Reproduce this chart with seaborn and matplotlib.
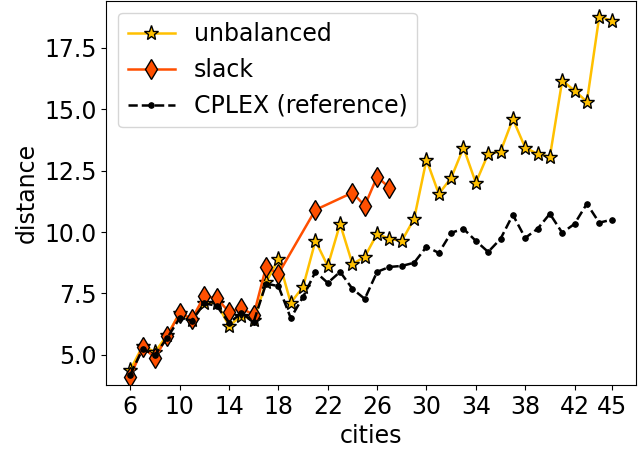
import numpy as np
import pandas as pd
import seaborn as sns
import matplotlib
matplotlib.use("Agg")
import matplotlib.pyplot as plt

# values
cities = list(range(6, 46))
unbalanced = [4.39, 5.37, 5.12, 5.81, 6.71, 6.43, 7.12, 7.12, 6.18, 6.59,
              6.43, 7.95, 8.9, 7.12, 7.77, 9.64, 8.62, 10.33, 8.7, 8.99,
              9.93, 9.72, 9.64, 10.54, 12.94, 11.55, 12.2, 13.43, 12.0, 13.18,
              13.27, 14.6, 13.43, 13.18, 13.06, 16.16, 15.75, 15.3, 18.76, 18.6]
slack_cities = [6, 7, 8, 9, 10, 11, 12, 13, 14, 15, 16, 17, 18, 21, 24, 25, 26, 27]
slack = [4.1, 5.33, 4.88, 5.77, 6.71, 6.47, 7.4, 7.3, 6.75, 6.9,
         6.63, 8.58, 8.3, 10.9, 11.6, 11.07, 12.25, 11.8]
cplex = [4.2, 5.24, 5.0, 5.7, 6.5, 6.4, 7.1, 7.0, 6.3, 6.7,
         6.35, 7.9, 7.8, 6.5, 7.36, 8.38, 7.93, 8.38, 7.69, 7.28,
         8.38, 8.58, 8.62, 8.75, 9.4, 9.15, 9.97, 10.13, 9.64, 9.19,
         9.72, 10.7, 9.76, 10.13, 10.74, 9.97, 10.33, 11.15, 10.38, 10.5]
xticks = [6, 10, 14, 18, 22, 26, 30, 34, 38, 42, 45]
yticks = [5.0, 7.5, 10.0, 12.5, 15.0, 17.5]

fig, ax = plt.subplots(figsize=(6.44, 4.61), dpi=100)
fig.subplots_adjust(left=0.165, right=0.987, bottom=0.165, top=0.998)

sns.lineplot(x=cities, y=unbalanced, ax=ax, color='#FFC000', linewidth=1.8,
             marker='*', markersize=11, markerfacecolor='#FFC000',
             markeredgecolor='black', markeredgewidth=1, label='unbalanced')
sns.lineplot(x=slack_cities, y=slack, ax=ax, color='#FF4F00', linewidth=1.8,
             marker='d', markersize=10, markerfacecolor='#FF4F00',
             markeredgecolor='black', markeredgewidth=1, label='slack')
sns.lineplot(x=cities, y=cplex, ax=ax, color='black', linewidth=1.8,
             linestyle='--', marker='o', markersize=4,
             markeredgecolor='black', label='CPLEX (reference)')

ax.set_xticks(xticks)
ax.set_yticks(yticks)
ax.set_xlim(4.05, 46.95)
ax.set_ylim(3.78, 19.4)
ax.set_xlabel('cities', fontsize=17)
ax.set_ylabel('distance', fontsize=17)
ax.tick_params(labelsize=17)
ax.legend(loc='upper left', fontsize=17)

fig.savefig('out.png', dpi=100)
